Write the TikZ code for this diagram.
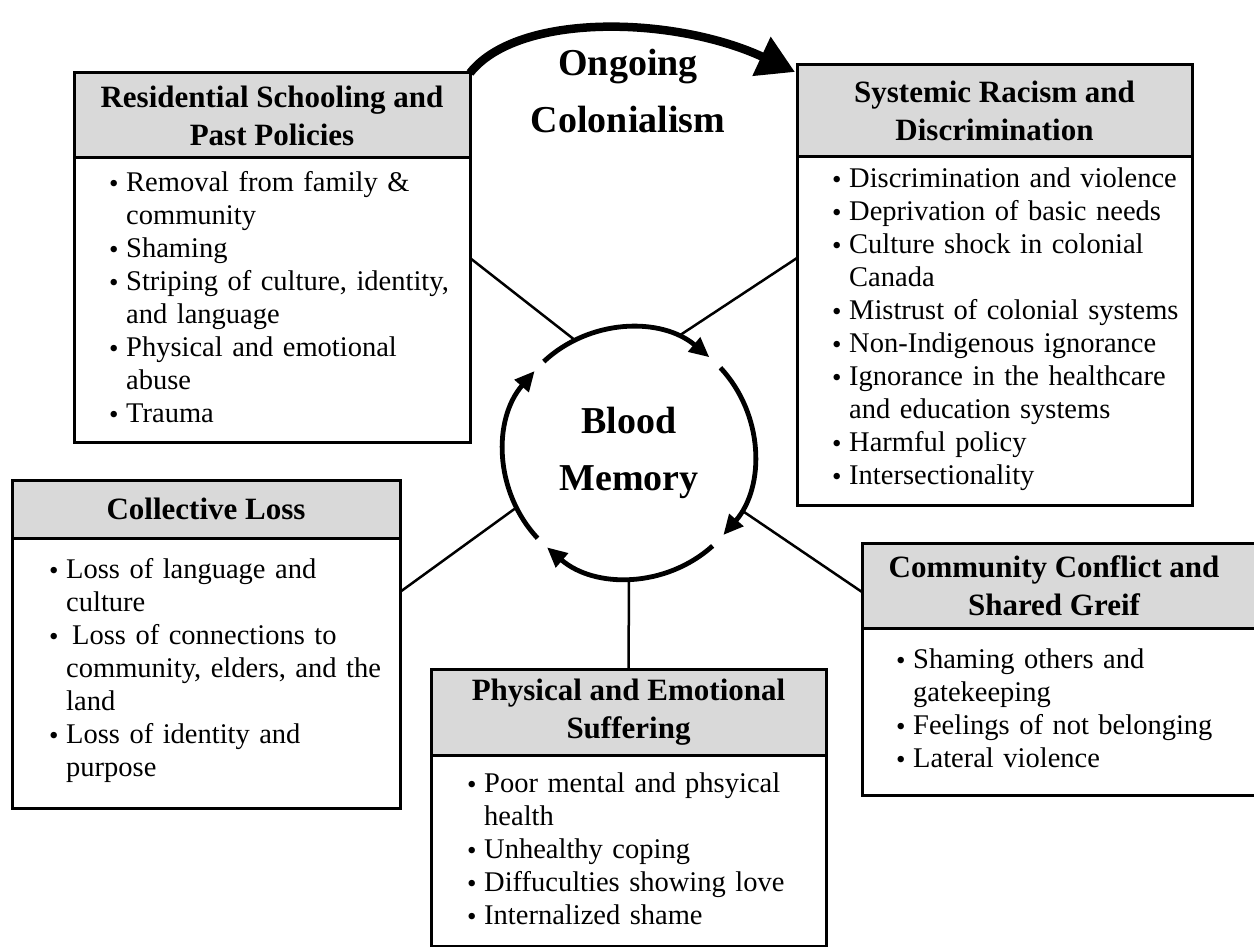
\documentclass[tikz,border=0pt]{standalone}
\usepackage{fontspec}
\setmainfont{Liberation Serif}
\usetikzlibrary{arrows.meta,calc}
\definecolor{headgray}{RGB}{217,217,217}
\newcommand{\bul}{\strut\makebox[17pt][l]{\raisebox{-1pt}{\fontsize{27}{27}\selectfont\textbullet}}}
\newcommand{\cont}{\strut\hspace*{17pt}}
\newcommand{\headfont}{\fontsize{31}{38}\selectfont\bfseries}
\newcommand{\bodyfont}{\fontsize{28.5}{33}\selectfont}
\newcommand{\bigfont}{\fontsize{38}{57}\selectfont\bfseries}
\begin{document}
\begin{tikzpicture}[x=1pt,y=1pt,
  boxline/.style={draw=black, line width=3pt, outer sep=0pt},
  head/.style={boxline, fill=headgray, align=center, font=\headfont, inner sep=0pt},
  bodybox/.style={boxline, fill=white, inner sep=0pt, anchor=north},
  items/.style={anchor=north west, inner sep=0pt, align=left, font=\bodyfont, text width=420pt},
  link/.style={line width=2.5pt},
  cyc/.style={line width=4.8pt, -{Triangle[length=20pt,width=18pt]}},
  bigarrow/.style={line width=8.5pt, -{Triangle[length=37pt,width=41pt]}},
  title/.style={align=center, font=\bigfont, inner sep=0pt}
]
\useasboundingbox (0,0) rectangle (1254,-947);

% Box 1
\node[head, minimum width=396pt, minimum height=85pt] (h1) at (272,-115.5) {Residential Schooling and\\Past Policies};
\node[bodybox, minimum width=396pt, minimum height=284pt] (b1) at (h1.south) {};
\node[items] (t1) at (109,-167.9) {\bul Removal from family \&\\\cont community\\\bul Shaming\\\bul Striping of culture, identity,\\\cont and language\\\bul Physical and emotional\\\cont abuse\\\bul Trauma};

% Box 2
\node[head, minimum width=395pt, minimum height=92pt] (h2) at (994.5,-111) {Systemic Racism and\\Discrimination};
\node[bodybox, minimum width=395pt, minimum height=348pt] (b2) at (h2.south) {};
\node[items] (t2) at (832,-163.9) {\bul Discrimination and violence\\\bul Deprivation of basic needs\\\bul Culture shock in colonial\\\cont Canada\\\bul Mistrust of colonial systems\\\bul Non-Indigenous ignorance\\\bul Ignorance in the healthcare\\\cont and education systems\\\bul Harmful policy\\\bul Intersectionality};

% Box 3
\node[head, minimum width=388pt, minimum height=58pt] (h3) at (206,-509) {Collective Loss};
\node[bodybox, minimum width=388pt, minimum height=270pt] (b3) at (h3.south) {};
\node[items] (t3) at (49,-554.9) {\bul Loss of language and\\\cont culture\\\bul \hspace*{6pt}Loss of connections to\\\cont community, elders, and the\\\cont land\\\bul Loss of identity and\\\cont purpose};

% Box 4
\node[head, minimum width=395pt, minimum height=86pt] (h4) at (628.5,-712) {Physical and Emotional\\Suffering};
\node[bodybox, minimum width=395pt, minimum height=191pt] (b4) at (h4.south) {};
\node[items] (t4) at (467,-768.9) {\bul Poor mental and phsyical\\\cont health\\\bul Unhealthy coping\\\bul Diffuculties showing love\\\bul Internalized shame};

% Box 5
\node[head, minimum width=400pt, minimum height=85pt] (h5) at (1062,-585.5) {Community Conflict and\hspace*{16pt}\\Shared Greif\hspace*{16pt}};
\node[bodybox, minimum width=400pt, minimum height=167pt] (b5) at (h5.south) {};
\node[items] (t5) at (896,-644.9) {\bul Shaming others and\\\cont gatekeeping\\\bul Feelings of not belonging\\\bul Lateral violence};

% Central circle
\node[circle, minimum size=254pt, inner sep=0pt, outer sep=0pt, title] (c) at (629,-453) {Blood\\Memory};
\draw[cyc] ([shift={(133:125)}]c.center) arc[start angle=133, end angle=50, radius=125];
\draw[cyc] ([shift={(43:125)}]c.center) arc[start angle=43, end angle=-41, radius=125];
\draw[cyc] ([shift={(-48:125)}]c.center) arc[start angle=-48, end angle=-131, radius=125];
\draw[cyc] ([shift={(223:125)}]c.center) arc[start angle=223, end angle=139, radius=125];

% Connectors
\coordinate (p1) at ([yshift=-100pt]b1.north east);
\coordinate (p2) at ([yshift=-101pt]b2.north west);
\coordinate (p3) at ([yshift=-54pt]b3.north east);
\coordinate (p5) at ([yshift=-49pt]h5.north west);
\draw[link] (c.116) -- (p1);
\draw[link] (c.67) -- (p2);
\draw[link] (c.206) -- (p3);
\draw[link] (c.-27) -- (p5);
\draw[link] (c.south) -- (h4.north);

% Ongoing colonialism
\node[title] (oc) at (628,-91) {Ongoing\\Colonialism};
\coordinate (tip) at ([shift={(-2pt,-7pt)}]h2.north west);
\draw[bigarrow] (h1.north east) .. controls (518,-12) and (675,-16) .. (tip);
\end{tikzpicture}
\end{document}
